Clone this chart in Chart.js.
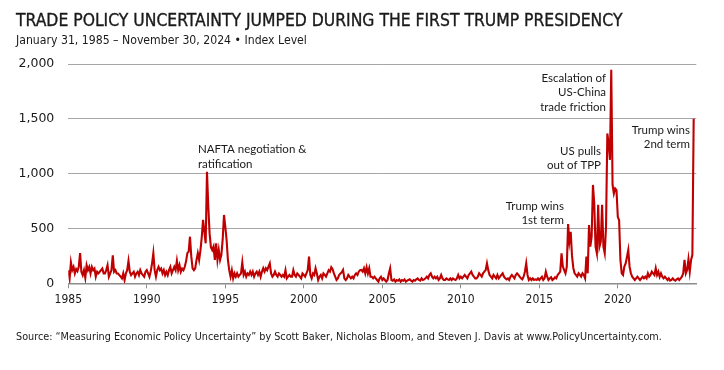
<!DOCTYPE html>
<html>
<head>
<meta charset="utf-8">
<script src="https://cdn.jsdelivr.net/npm/chart.js@4/dist/chart.umd.min.js"></script>
<style>
  html, body { margin: 0; padding: 0; background: #fff; }
  #wrap { position: relative; width: 724px; height: 370px; overflow: hidden; }
  #chart { position: absolute; left: 0; top: 0; }
  .txt { position: absolute; left: 16px; white-space: nowrap; color: #1a1a1a; line-height: 1; font-family: 'DejaVu Sans Condensed', sans-serif; }
  #title { top: 12px; font-size: 17px; -webkit-text-stroke: 0.35px #1a1a1a; }
  #subtitle { top: 34px; font-size: 13px; }
  #source { top: 332px; font-size: 11px; }
</style>
</head>
<body>
<div id="wrap">
  <canvas id="chart" width="724" height="370"></canvas>
  <div class="txt" id="title" data-w="607">TRADE POLICY UNCERTAINTY JUMPED DURING THE FIRST TRUMP PRESIDENCY</div>
  <div class="txt" id="subtitle" data-w="291">January 31, 1985 – November 30, 2024 • Index Level</div>
  <div class="txt" id="source" data-w="647">Source: “Measuring Economic Policy Uncertainty” by Scott Baker, Nicholas Bloom, and Steven J. Davis at www.PolicyUncertainty.com.</div>
</div>
<script>
// monthly trade policy uncertainty index (Jan 1985 onwards)
const tpu1985to1994 = [
  120, 45, 190, 120, 150, 90, 130, 110, 150, 275, 105, 75,
  120, 50, 165, 120, 150, 90, 150, 120, 135, 60, 105, 90,
  105, 120, 135, 90, 90, 120, 165, 60, 90, 120, 255, 105,
  120, 90, 90, 75, 60, 45, 90, 30, 90, 120, 205, 105,
  75, 90, 105, 60, 90, 105, 75, 120, 90, 75, 60, 105,
  120, 90, 60, 110, 180, 275, 120, 60, 120, 150, 120, 135,
  90, 120, 75, 105, 75, 120, 150, 90, 120, 150, 120, 205,
  120, 165, 105, 135, 120, 150, 200, 275, 290, 425, 245, 137,
  120, 137, 213, 275, 213, 300, 420, 578, 470, 365, 1018, 700,
  455, 330, 304, 335, 213, 365, 213, 304, 213, 260, 400, 623
]
const tpu1995to2004 = [
  517, 395, 213, 120, 60, 120, 45, 90, 60, 90, 60, 76,
  90, 190, 76, 106, 60, 90, 76, 106, 76, 106, 60, 90,
  106, 76, 106, 60, 106, 137, 106, 137, 120, 152, 182, 90,
  60, 76, 106, 76, 60, 90, 76, 60, 76, 60, 120, 45,
  60, 76, 60, 60, 120, 76, 60, 90, 76, 60, 45, 90,
  76, 60, 90, 120, 243, 76, 45, 90, 76, 137, 90, 30,
  60, 76, 45, 90, 76, 60, 90, 120, 106, 146, 128, 90,
  60, 30, 45, 76, 90, 100, 122, 45, 30, 45, 76, 60,
  45, 60, 45, 76, 90, 76, 106, 120, 122, 106, 137, 90,
  146, 90, 137, 60, 60, 45, 60, 45, 30, 15, 45, 60
]
const tpu2005to2014 = [
  30, 45, 30, 15, 30, 90, 137, 30, 24, 36, 15, 30,
  24, 36, 15, 30, 24, 36, 15, 24, 30, 36, 24, 15,
  30, 24, 36, 45, 30, 24, 45, 30, 36, 45, 60, 45,
  76, 91, 60, 45, 60, 45, 60, 30, 45, 76, 45, 30,
  30, 45, 36, 30, 45, 30, 45, 36, 30, 45, 76, 45,
  60, 45, 60, 76, 60, 45, 76, 90, 106, 76, 60, 45,
  45, 60, 91, 76, 60, 91, 106, 120, 182, 120, 76, 60,
  45, 76, 60, 45, 76, 45, 60, 76, 91, 60, 45, 36,
  45, 30, 60, 76, 60, 45, 76, 91, 76, 60, 45, 36,
  60, 106, 182, 76, 30, 45, 30, 45, 30, 36, 30, 45
]
const tpu2015to2024 = [
  30, 45, 60, 30, 45, 106, 60, 30, 45, 55, 30, 40,
  55, 45, 76, 90, 106, 274, 152, 120, 90, 150, 540, 380,
  470, 250, 140, 91, 76, 60, 91, 76, 60, 91, 76, 45,
  243, 91, 532, 334, 425, 897, 728, 334, 274, 715, 334, 380,
  715, 334, 274, 517, 1367, 1276, 1125, 1947, 897, 819, 865, 850,
  606, 575, 213, 91, 76, 152, 182, 240, 304, 152, 91, 60,
  45, 30, 45, 60, 45, 30, 45, 60, 45, 60, 45, 91,
  60, 76, 106, 91, 76, 137, 76, 106, 60, 91, 60, 45,
  60, 45, 30, 45, 24, 30, 45, 30, 24, 36, 45, 30,
  45, 60, 91, 213, 91, 122, 219, 106, 213, 260, 1500
]
const startYear = 1985
const yearTicks = [1985, 1990, 1995, 2000, 2005, 2010, 2015, 2020]

const notes = [
  { x: 1993.26, y: 1220, align: 'left', lines: ['NAFTA negotiation &', 'ratification'] },
  { x: 2016.57, y: 705, align: 'right', lines: ['Trump wins', '1st term'] },
  { x: 2018.93, y: 1207, align: 'right', lines: ['US pulls', 'out of TPP'] },
  { x: 2019.25, y: 1872, align: 'right', lines: ['Escalation of', 'US-China', 'trade friction'] },
  { x: 2024.6, y: 1398, align: 'right', lines: ['Trump wins', '2nd term'] }
]

const values = [...tpu1985to1994, ...tpu1995to2004, ...tpu2005to2014, ...tpu2015to2024]
const points = values.map((v, i) => ({ x: startYear + i / 12, y: v }))

// squeeze the header / source lines to the widths they have in the picture
document.querySelectorAll('.txt').forEach(el => {
  const size = parseFloat(getComputedStyle(el).fontSize)
  el.style.fontSize = (size * el.dataset.w / el.getBoundingClientRect().width) + 'px'
})

const notePlugin = {
  id: 'notes',
  afterDatasetsDraw (chart) {
    const { ctx, scales: { x, y } } = chart
    ctx.save()
    ctx.font = '11.5px Lato, sans-serif'
    ctx.fillStyle = '#1a1a1a'
    ctx.textBaseline = 'middle'
    notes.forEach(n => {
      ctx.textAlign = n.align
      const px = x.getPixelForValue(n.x)
      const py = y.getPixelForValue(n.y)
      n.lines.forEach((line, k) => ctx.fillText(line, px, py + k * 14.5))
    })
    ctx.restore()
  }
}

// eslint-disable-next-line no-unused-vars, no-undef
const chart = new Chart(document.querySelector('#chart'), {
  type: 'line',
  data: {
    datasets: [{
      data: points,
      borderColor: '#c00000',
      borderWidth: 2.1,
      pointRadius: 0,
      tension: 0
    }]
  },
  options: {
    responsive: false,
    animation: false,
    layout: { padding: { left: 0, top: 64, right: 27.7, bottom: 56.7 } },
    scales: {
      x: {
        type: 'linear',
        min: 1985,
        max: 2025,
        afterFit: s => { s.height = 30 },
        afterBuildTicks: s => { s.ticks = yearTicks.map(v => ({ value: v })) },
        ticks: {
          padding: 4,
          color: '#1a1a1a',
          font: { family: "'DejaVu Sans Condensed', sans-serif", size: 12 },
          callback: v => String(v)
        },
        grid: { drawOnChartArea: false, tickLength: 5, color: '#8c8c8c' },
        border: { color: '#8c8c8c', width: 1.5 }
      },
      y: {
        min: 0,
        max: 2000,
        afterFit: s => { s.width = 68.3 },
        ticks: {
          stepSize: 500,
          padding: 14,
          color: '#1a1a1a',
          font: { family: "'DejaVu Sans', sans-serif", size: 12.5 },
          callback: v => v.toLocaleString('en-US')
        },
        grid: { drawTicks: false, color: v => v.tick.value === 0 ? 'rgba(0,0,0,0)' : '#a6a6a6' },
        border: { display: false }
      }
    },
    plugins: {
      legend: { display: false },
      tooltip: { enabled: false }
    }
  },
  plugins: [notePlugin]
})
</script>
</body>
</html>
